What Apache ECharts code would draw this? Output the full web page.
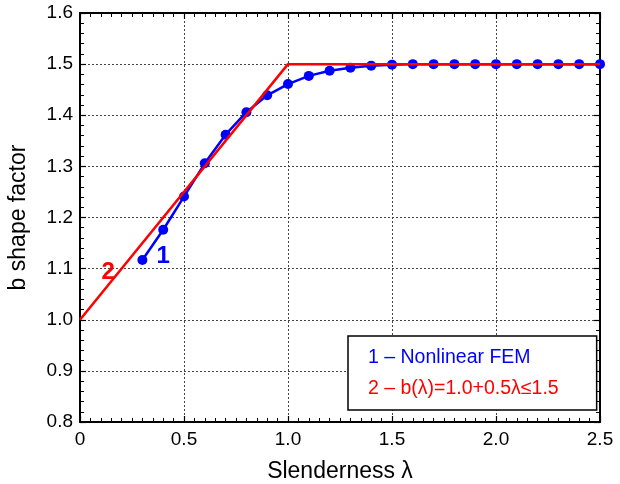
<!DOCTYPE html>
<html>
<head>
<meta charset="utf-8">
<script src="https://cdn.jsdelivr.net/npm/echarts@6/dist/echarts.min.js"></script>
<style>
html,body{margin:0;padding:0;background:#fff;}
#chart{width:620px;height:484px;}
</style>
</head>
<body>
<div id="chart"></div>
<script>
// Data
const lambdaFem = [0.3, 0.4, 0.5, 0.6, 0.7, 0.8, 0.9, 1.0, 1.1, 1.2, 1.3, 1.4, 1.5, 1.6, 1.7, 1.8, 1.9, 2.0, 2.1, 2.2, 2.3, 2.4, 2.5];
const bFem = [1.117, 1.176, 1.241, 1.306, 1.362, 1.406, 1.439, 1.461, 1.477, 1.487, 1.493, 1.497, 1.499, 1.5, 1.5, 1.5, 1.5, 1.5, 1.5, 1.5, 1.5, 1.5, 1.5];
const lambdaCode = [0, 1.0, 2.5];
const bCode = [1.0, 1.5, 1.5];
const seriesNames = ['1 \u2013 Nonlinear FEM', '2 \u2013 b(\u03bb)=1.0+0.5\u03bb\u22641.5'];
const curveTags = ['1', '2'];
const curveTagX = [0.40, 0.135];
const curveTagY = [1.123, 1.092];
const xTitle = 'Slenderness \u03bb';
const yTitle = 'b shape factor';

const FONT = '"Liberation Sans", Arial, Helvetica, sans-serif';
const BLUE = '#0000ff';
const RED = '#ff0000';

const chart = echarts.init(document.getElementById('chart'), null, {renderer: 'canvas'});

function fmtX(v) { return v === 0 ? '0' : v.toFixed(1); }
function fmtY(v) { return v.toFixed(1); }

const baseAxisLine = {show: true, onZero: false, lineStyle: {color: '#000', width: 2}};

const option = {
  animation: false,
  backgroundColor: '#fff',
  grid: {left: 80, right: 20, top: 13, bottom: 62, containLabel: false, outerBoundsMode: 'none'},
  legend: {
    orient: 'vertical',
    left: 348, top: 336,
    padding: [11, 38, 11, 15],
    itemGap: 11,
    itemWidth: 0, itemHeight: 21,
    icon: 'none',
    backgroundColor: '#fff',
    borderColor: '#000',
    borderWidth: 1.5,
    borderRadius: 0,
    selectedMode: false,
    data: [
      {name: seriesNames[0], textStyle: {color: BLUE}},
      {name: seriesNames[1], textStyle: {color: RED}}
    ],
    textStyle: {fontFamily: FONT, fontSize: 19.5}
  },
  xAxis: [{
    type: 'value', min: 0, max: 2.5, interval: 0.5,
    name: xTitle, nameLocation: 'middle', nameGap: 38,
    nameTextStyle: {fontFamily: FONT, fontSize: 23, color: '#000'},
    axisLine: baseAxisLine,
    axisTick: {show: true, inside: true, length: 6, lineStyle: {color: '#000', width: 1.2}},
    minorTick: {show: true, splitNumber: 10, length: 4, lineStyle: {color: '#000', width: 1}},
    axisLabel: {formatter: fmtX, fontFamily: FONT, fontSize: 19, color: '#000', margin: 8},
    splitLine: {show: true, lineStyle: {type: [2, 2], color: '#444', width: 1}}
  }, {
    type: 'value', min: 0, max: 2.5, interval: 0.5, position: 'top',
    axisLine: baseAxisLine,
    axisTick: {show: true, inside: true, length: 6, lineStyle: {color: '#000', width: 1.2}},
    minorTick: {show: true, splitNumber: 10, length: 4, lineStyle: {color: '#000', width: 1}},
    axisLabel: {show: false},
    splitLine: {show: false}
  }],
  yAxis: [{
    type: 'value', min: 0.8, max: 1.6, interval: 0.1,
    name: yTitle, nameLocation: 'middle', nameGap: 50, nameRotate: 90,
    nameTextStyle: {fontFamily: FONT, fontSize: 23, color: '#000'},
    axisLine: baseAxisLine,
    axisTick: {show: true, inside: true, length: 6, lineStyle: {color: '#000', width: 1.2}},
    minorTick: {show: true, splitNumber: 5, length: 4, lineStyle: {color: '#000', width: 1}},
    axisLabel: {formatter: fmtY, fontFamily: FONT, fontSize: 19, color: '#000', margin: 7},
    splitLine: {show: true, lineStyle: {type: [2, 2], color: '#444', width: 1}}
  }, {
    type: 'value', min: 0.8, max: 1.6, interval: 0.1, position: 'right',
    axisLine: baseAxisLine,
    axisTick: {show: true, inside: true, length: 6, lineStyle: {color: '#000', width: 1.2}},
    minorTick: {show: true, splitNumber: 5, length: 4, lineStyle: {color: '#000', width: 1}},
    axisLabel: {show: false},
    splitLine: {show: false}
  }],
  series: [
    {
      name: seriesNames[0], type: 'line',
      data: lambdaFem.map((x, i) => [x, bFem[i]]),
      color: BLUE,
      lineStyle: {color: BLUE, width: 2.5},
      symbol: 'circle', symbolSize: 10,
      itemStyle: {color: BLUE},
      clip: false, z: 3
    },
    {
      name: seriesNames[1], type: 'line',
      data: lambdaCode.map((x, i) => [x, bCode[i]]),
      color: RED,
      lineStyle: {color: RED, width: 2.5},
      symbol: 'none',
      clip: false, z: 4
    },
    {
      name: 'tags', type: 'scatter',
      data: curveTags.map((t, i) => ({
        value: [curveTagX[i], curveTagY[i]],
        tag: t,
        label: {color: i === 0 ? BLUE : RED}
      })),
      symbolSize: 0,
      silent: true, z: 5,
      label: {
        show: true, position: 'inside',
        formatter: p => p.data.tag,
        fontFamily: FONT, fontSize: 24, fontWeight: 'bold',
        textBorderWidth: 0, textBorderColor: 'transparent', opacity: 1
      }
    }
  ]
};

chart.setOption(option);
</script>
</body>
</html>
